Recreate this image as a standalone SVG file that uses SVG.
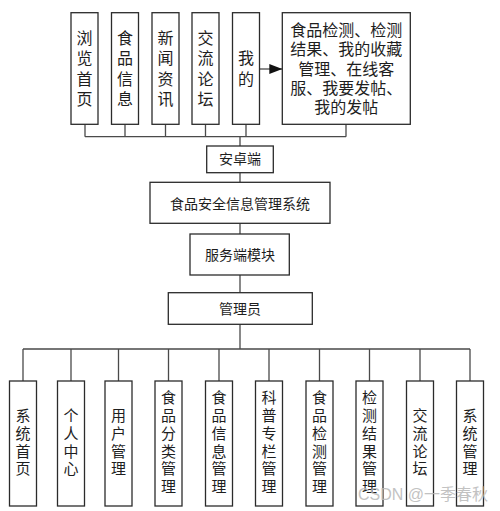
<svg xmlns="http://www.w3.org/2000/svg" width="500" height="511" viewBox="0 0 500 511">
<style>
.box{fill:#fff;stroke:#2b2b2b;stroke-width:1.3}
.ln{fill:none;stroke:#4a4a4a;stroke-width:1.3}
.t16{font-family:"Liberation Sans","Noto Sans CJK SC",sans-serif;font-size:16px;fill:#1e1e1e;text-anchor:middle}
.t14{font-family:"Noto Sans CJK SC","Noto Sans",sans-serif;font-size:14px;fill:#1e1e1e;text-anchor:middle}
.v16{font-family:"Noto Sans CJK SC","Noto Sans",sans-serif;font-size:16px;fill:#1e1e1e;text-anchor:middle;writing-mode:vertical-rl;letter-spacing:4.3px}
.v15{font-family:"Noto Sans CJK SC","Noto Sans",sans-serif;font-size:15px;fill:#1e1e1e;text-anchor:middle;writing-mode:vertical-rl;letter-spacing:2.8px}
.wm{font-family:"Liberation Sans","Noto Sans CJK SC",sans-serif;font-size:16px;fill:#b8b8b8;opacity:0.85}
</style>
<defs>
<marker id="arr" markerWidth="14" markerHeight="10" refX="13" refY="5" orient="auto" markerUnits="userSpaceOnUse">
<path d="M0,0 L13,5 L0,10 Z" fill="#111"/>
</marker>
</defs>
<rect width="500" height="511" fill="#fff"/>

<g id="connectors">
<path class="ln" d="M85,124.3V136.7M125,124.3V136.7M165.5,124.3V136.7M205.5,124.3V136.7M246,124.3V136.7M346,124.3V136.7M85,136.7H346"/>
<path class="ln" d="M240,136.7V146M240,172.7V182.3M240,223.3V234M240,275V292.7M240,324.3V349"/>
<path class="ln" d="M23,349H470M23,349V381M71,349V381M118.5,349V381M168.5,349V381M219,349V381M269,349V381M319.5,349V381M369.5,349V381M420,349V381M470,349V381"/>
<line class="ln" x1="259.3" y1="69" x2="282.3" y2="69" stroke="#111" marker-end="url(#arr)"/>
</g>

<g id="n-browse"><rect class="box" x="71" y="12.7" width="27" height="111.6"/>
<text class="v16" x="84.5" y="70.6">浏览首页</text></g>
<g id="n-foodinfo"><rect class="box" x="111.5" y="12.7" width="27" height="111.6"/>
<text class="v16" x="125" y="70.6">食品信息</text></g>
<g id="n-news"><rect class="box" x="152" y="12.7" width="27" height="111.6"/>
<text class="v16" x="165.5" y="70.6">新闻资讯</text></g>
<g id="n-forum"><rect class="box" x="192" y="12.7" width="27" height="111.6"/>
<text class="v16" x="205.5" y="70.6">交流论坛</text></g>
<g id="n-mine"><rect class="box" x="232.5" y="12.7" width="27" height="111.6"/>
<text class="v16" x="246" y="70.6">我的</text></g>
<g id="n-mine-detail"><rect class="box" x="282.3" y="12.7" width="128" height="111.6"/>
<text class="t16"><tspan x="346.3" y="36.1">食品检测、检测</tspan><tspan x="346.3" y="55.4">结果、我的收藏</tspan><tspan x="346.3" y="74.5">管理、在线客</tspan><tspan x="346.3" y="93.6">服、我要发帖、</tspan><tspan x="346.3" y="112.8">我的发帖</tspan></text></g>

<g id="n-android"><rect class="box" x="206.7" y="146" width="66.6" height="26.7"/>
<text class="t14" x="240" y="164.3">安卓端</text></g>
<g id="n-system"><rect class="box" x="150" y="182.3" width="180" height="41"/>
<text class="t14" x="240" y="208.6">食品安全信息管理系统</text></g>
<g id="n-server"><rect class="box" x="190" y="234" width="99.3" height="41"/>
<text class="t14" x="240" y="260.3">服务端模块</text></g>
<g id="n-admin"><rect class="box" x="168.3" y="292.7" width="144" height="31.6"/>
<text class="t14" x="240" y="313.6">管理员</text></g>

<g id="b-home"><rect class="box" x="9.5" y="381" width="27" height="125"/>
<text class="v15" x="23" y="443.4">系统首页</text></g>
<g id="b-user-center"><rect class="box" x="57.5" y="381" width="27" height="125"/>
<text class="v15" x="71" y="443.4">个人中心</text></g>
<g id="b-user-mgmt"><rect class="box" x="105" y="381" width="27" height="125"/>
<text class="v15" x="118.5" y="443.4">用户管理</text></g>
<g id="b-category"><rect class="box" x="155" y="381" width="27" height="125"/>
<text class="v15" x="168.5" y="443.4">食品分类管理</text></g>
<g id="b-foodinfo"><rect class="box" x="205.5" y="381" width="27" height="125"/>
<text class="v15" x="219" y="443.4">食品信息管理</text></g>
<g id="b-science"><rect class="box" x="255.5" y="381" width="27" height="125"/>
<text class="v15" x="269" y="443.4">科普专栏管理</text></g>
<g id="b-test"><rect class="box" x="306" y="381" width="27" height="125"/>
<text class="v15" x="319.5" y="443.4">食品检测管理</text></g>
<g id="b-result"><rect class="box" x="356" y="381" width="27" height="125"/>
<text class="v15" x="369.5" y="443.4">检测结果管理</text></g>
<g id="b-forum"><rect class="box" x="406.5" y="381" width="27" height="125"/>
<text class="v15" x="420" y="443.4">交流论坛</text></g>
<g id="b-sysmgmt"><rect class="box" x="456.5" y="381" width="27" height="125"/>
<text class="v15" x="470" y="443.4">系统管理</text></g>

<text class="wm" x="358" y="500">CSDN @一季春秋</text>
</svg>
